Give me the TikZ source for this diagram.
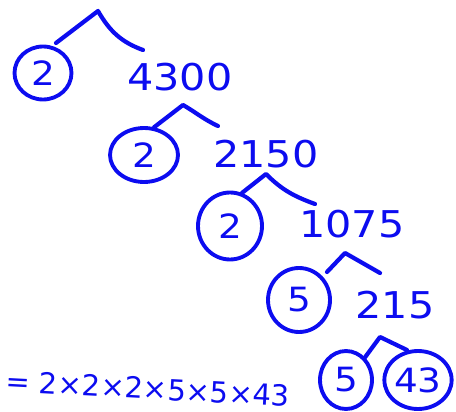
\documentclass[tikz,border=0pt]{standalone}
\usepackage{fontspec}
\setmainfont{DejaVu Sans}
\usetikzlibrary{shapes.geometric}
\definecolor{ink}{RGB}{12,12,240}
\newcommand{\hw}[1]{\scalebox{1.12}[1]{#1}}

\begin{document}
\begin{tikzpicture}[x=0.02cm, y=-0.02cm, line cap=round, line join=round,
    ring/.style={draw=ink, ellipse, line width=2.2pt, inner sep=0pt, text=ink, font=\fontsize{19}{19}\selectfont},
    num/.style={inner sep=0pt, text=ink, font=\fontsize{21}{21}\selectfont},
    branch/.style={draw=ink, line width=2.4pt}]
    \useasboundingbox (0,0) rectangle (456,412);

    % Level 1
    \node[ring, minimum width=1.14cm, minimum height=1.06cm] (c2a) at (43,73) {\hw{2}};
    \node[num] (n4300) at (180,77) {\hw{4300}};
    \coordinate (l1) at (56,43);
    \coordinate (p1) at (98,11);
    \coordinate (r1) at (143,50);
    \draw[branch] (l1) -- (p1) to[out=-60, in=160] (r1);

    % Level 2
    \node[ring, minimum width=1.36cm, minimum height=1.08cm] (c2b) at (144,155) {\hw{2}};
    \node[num] (n2150) at (266,154) {\hw{2150}};
    \coordinate (p2) at (183,105);
    \coordinate (r2) at (218,126);
    \draw[branch] (c2b.70) -- (p2) to[out=-30, in=155] (r2);

    % Level 3
    \node[ring, minimum width=1.28cm, minimum height=1.34cm] (c2c) at (230,226) {\hw{2}};
    \node[num] (n1075) at (352,224) {\hw{1075}};
    \coordinate (p3) at (266,174);
    \coordinate (r3) at (315,204);
    \draw[branch] (c2c.70) -- (p3) to[out=-45, in=160] (r3);

    % Level 4
    \node[ring, minimum width=1.24cm, minimum height=1.28cm] (c5a) at (299,300) {\hw{5}};
    \node[num] (n215) at (395,305) {\hw{215}};
    \coordinate (l4) at (327,272);
    \coordinate (p4) at (345,253);
    \coordinate (r4) at (380,273);
    \draw[branch] (l4) -- (p4) -- (r4);

    % Level 5
    \node[ring, minimum width=1.04cm, minimum height=1.16cm] (c5b) at (346,380) {\hw{5}};
    \node[ring, minimum width=1.2cm, minimum height=1.16cm] (c43) at (418,380) {\hw{43}};
    \coordinate (p5) at (380,337);
    \coordinate (r5) at (407,350);
    \draw[branch] (c5b.50) -- (p5) -- (r5);

    % Product
    \node[num, anchor=west, rotate=-3, inner sep=1pt, font=\fontsize{16.5}{16.5}\selectfont] (prod) at (4,381)
        {= 2×2×2×5×5×43};
\end{tikzpicture}
\end{document}
